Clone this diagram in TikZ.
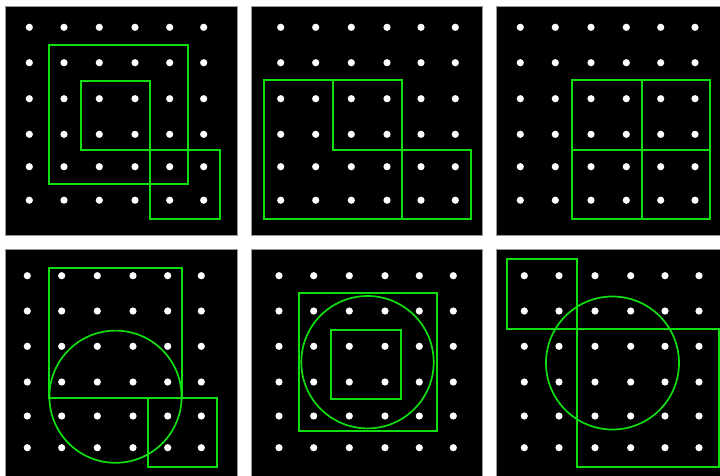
\documentclass[tikz,border=0pt]{standalone}
\definecolor{lime}{RGB}{16,222,16}
\tikzset{
  panel/.style={fill=black,draw=black!40,line width=0.6pt},
  gline/.style={draw=lime,line width=1.7pt},
  dot/.style={fill=white}
}
\begin{document}
\begin{tikzpicture}[x=1pt,y=-1pt]
\useasboundingbox (0,0) rectangle (720,475);
\fill[white] (0,0) rectangle (720,475);
% panels
\draw[panel] (5.3,6.7) rectangle (237,235);
\draw[panel] (251,6.7) rectangle (482.3,235);
\draw[panel] (496,6.7) rectangle (722,235);
\draw[panel] (5.3,249) rectangle (237,478);
\draw[panel] (251,249) rectangle (482.3,478);
\draw[panel] (496,249) rectangle (722,478);
% dots
\foreach \y in {27.3,62.7,98.7,134.3,166.7,200.2}{
  \foreach \x in {29.3,64,99.3,135,169.7,203.7}{\fill[dot] (\x,\y) circle (3.6);}
  \foreach \x in {280.7,315.7,351.3,387,421,455.3}{\fill[dot] (\x,\y) circle (3.6);}
  \foreach \x in {520.3,555.3,591,626.3,660.7,695}{\fill[dot] (\x,\y) circle (3.6);}
}
\foreach \y in {275.7,311,346.3,382,416,447.7}{
  \foreach \x in {27.3,61.7,97.3,133,167.7,201.3}{\fill[dot] (\x,\y) circle (3.6);}
  \foreach \x in {279,313.7,349.3,385,419.3,453.3}{\fill[dot] (\x,\y) circle (3.6);}
  \foreach \x in {524.3,559,595,630.7,665,699}{\fill[dot] (\x,\y) circle (3.6);}
}
% panel 1
\draw[gline] (49.3,45.3) rectangle (187.7,183.7);
\draw[gline] (81.3,81) rectangle (150.3,150);
\draw[gline] (150.3,150) rectangle (219.7,219.3);
% panel 2
\draw[gline] (263.7,80.3) rectangle (402,219);
\draw[gline] (333,80.3) rectangle (402,150);
\draw[gline] (402,150) rectangle (471,219);
% panel 3
\draw[gline] (572,80.3) rectangle (710.3,219);
\draw[gline] (641.7,80.3) -- (641.7,219);
\draw[gline] (572,150) -- (710.3,150);
% panel 4
\draw[gline] (48.7,267.7) rectangle (182.3,398);
\draw[gline] (148,398) rectangle (217.3,466.7);
\draw[gline] (115.5,396.7) circle (66.1);
% panel 5
\draw[gline] (298.7,293) rectangle (437.3,431);
\draw[gline] (331.3,329.7) rectangle (401,398.7);
\draw[gline] (367.5,362.2) circle (66.2);
% panel 6
\draw[gline] (507.3,259.3) rectangle (576.7,328.7);
\draw[gline] (576.7,329.3) rectangle (718.7,466.7);
\draw[gline] (612.5,363) circle (66.5);
\end{tikzpicture}
\end{document}
